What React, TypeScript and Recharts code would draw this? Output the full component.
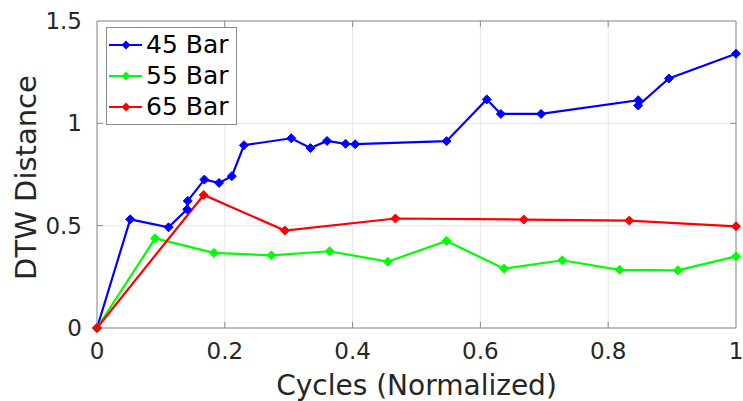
import React from 'react';
import {
  LineChart,
  Line,
  XAxis,
  YAxis,
  CartesianGrid,
  Legend,
  ReferenceLine,
  Label,
} from 'recharts';

type Pt = { x: number; y: number };

const bar45: Pt[] = [
  { x: 0, y: 0 },
  { x: 0.052, y: 0.531 },
  { x: 0.112, y: 0.492 },
  { x: 0.141, y: 0.58 },
  { x: 0.142, y: 0.621 },
  { x: 0.168, y: 0.725 },
  { x: 0.191, y: 0.709 },
  { x: 0.211, y: 0.742 },
  { x: 0.23, y: 0.893 },
  { x: 0.304, y: 0.927 },
  { x: 0.334, y: 0.879 },
  { x: 0.36, y: 0.914 },
  { x: 0.389, y: 0.9 },
  { x: 0.404, y: 0.898 },
  { x: 0.547, y: 0.913 },
  { x: 0.61, y: 1.117 },
  { x: 0.632, y: 1.046 },
  { x: 0.695, y: 1.046 },
  { x: 0.847, y: 1.113 },
  { x: 0.847, y: 1.087 },
  { x: 0.895, y: 1.219 },
  { x: 1.0, y: 1.34 },
];

const bar55: Pt[] = [
  { x: 0, y: 0 },
  { x: 0.091, y: 0.438 },
  { x: 0.183, y: 0.367 },
  { x: 0.273, y: 0.355 },
  { x: 0.364, y: 0.375 },
  { x: 0.455, y: 0.324 },
  { x: 0.547, y: 0.425 },
  { x: 0.637, y: 0.29 },
  { x: 0.728, y: 0.331 },
  { x: 0.818, y: 0.284 },
  { x: 0.909, y: 0.282 },
  { x: 1.0, y: 0.35 },
];

const bar65: Pt[] = [
  { x: 0, y: 0 },
  { x: 0.167, y: 0.65 },
  { x: 0.294, y: 0.476 },
  { x: 0.467, y: 0.535 },
  { x: 0.668, y: 0.53 },
  { x: 0.833, y: 0.525 },
  { x: 1.0, y: 0.497 },
];

const xTicks = [0, 0.2, 0.4, 0.6, 0.8, 1];
const yTicks = [0, 0.5, 1, 1.5];

const series = [
  { name: '45 Bar', color: '#0000ff', data: bar45 },
  { name: '55 Bar', color: '#00ff00', data: bar55 },
  { name: '65 Bar', color: '#ff0000', data: bar65 },
];

const FONT = '"DejaVu Sans", sans-serif';
const TEXT = '#262626';
const AXIS = '#8c8c8c';

const Diamond = (color: string) => (props: any) => {
  const { cx, cy } = props;
  if (cx == null || cy == null) return <g />;
  const r = 4.5;
  return (
    <polygon
      points={`${cx},${cy - r} ${cx + r},${cy} ${cx},${cy + r} ${cx - r},${cy}`}
      fill={color}
      stroke={color}
      strokeWidth={1}
    />
  );
};

const LegendBox = () => (
  <div
    style={{
      border: '1px solid #8c8c8c',
      background: '#fff',
      padding: '1px 7px 2px 2px',
      fontFamily: FONT,
      fontSize: 25,
      color: '#000',
      lineHeight: '31px',
    }}
  >
    {series.map((s) => (
      <div key={s.name} style={{ display: 'flex', alignItems: 'center' }}>
        <svg width={34} height={14} style={{ marginRight: 3 }}>
          <line x1={0} y1={7} x2={33} y2={7} stroke={s.color} strokeWidth={2} />
          <polygon points="17,2.5 21.5,7 17,11.5 12.5,7" fill={s.color} />
        </svg>
        <span>{s.name}</span>
      </div>
    ))}
  </div>
);

export default function App() {
  return (
    <div
      style={{
        position: 'fixed',
        top: 0,
        left: 0,
        width: 743,
        height: 401,
        background: '#fff',
        overflow: 'hidden',
      }}
    >
      <LineChart
        width={743}
        height={401}
        margin={{ top: 21, right: 7, bottom: 28, left: 37 }}
      >
        <CartesianGrid stroke="#e6e6e6" strokeWidth={1} />
        <XAxis
          type="number"
          dataKey="x"
          domain={[0, 1]}
          ticks={xTicks}
          interval={0}
          tickFormatter={(v) => String(v)}
          height={45}
          stroke={AXIS}
          tickLine={false}
          tick={{ fill: TEXT, fontSize: 23, fontFamily: FONT }}
          tickMargin={9}
          allowDuplicatedCategory={false}
        >
          <Label
            value="Cycles (Normalized)"
            position="insideBottom"
            offset={-22}
            style={{ fill: TEXT, fontSize: 28, fontFamily: FONT }}
          />
        </XAxis>
        <YAxis
          type="number"
          domain={[0, 1.5]}
          ticks={yTicks}
          width={60}
          stroke={AXIS}
          tickLine={false}
          tick={{ fill: TEXT, fontSize: 23, fontFamily: FONT }}
          tickMargin={9}
        >
          <Label
            value="DTW Distance"
            angle={-90}
            position="insideLeft"
            offset={-11}
            dy={3}
            style={{ fill: TEXT, fontSize: 29, fontFamily: FONT, textAnchor: 'middle' }}
          />
        </YAxis>
        {/* box: top and right edges */}
        <ReferenceLine y={1.5} stroke={AXIS} />
        <ReferenceLine x={1} stroke={AXIS} />
        {/* inward tick marks on all four sides */}
        {xTicks.slice(1, -1).map((t) => (
          <ReferenceLine
            key={`xb${t}`}
            segment={[
              { x: t, y: 0 },
              { x: t, y: 0.03 },
            ]}
            stroke={AXIS}
          />
        ))}
        {xTicks.slice(1, -1).map((t) => (
          <ReferenceLine
            key={`xt${t}`}
            segment={[
              { x: t, y: 1.5 },
              { x: t, y: 1.47 },
            ]}
            stroke={AXIS}
          />
        ))}
        {yTicks.slice(1, -1).map((t) => (
          <ReferenceLine
            key={`yl${t}`}
            segment={[
              { x: 0, y: t },
              { x: 0.0094, y: t },
            ]}
            stroke={AXIS}
          />
        ))}
        {yTicks.slice(1, -1).map((t) => (
          <ReferenceLine
            key={`yr${t}`}
            segment={[
              { x: 1, y: t },
              { x: 0.9906, y: t },
            ]}
            stroke={AXIS}
          />
        ))}
        {series.map((s) => (
          <Line
            key={s.name}
            name={s.name}
            data={s.data}
            dataKey="y"
            type="linear"
            stroke={s.color}
            strokeWidth={2.2}
            dot={Diamond(s.color)}
            activeDot={false}
            isAnimationActive={false}
          />
        ))}
        <Legend
          layout="horizontal"
          verticalAlign="middle"
          align="center"
          content={<LegendBox />}
          wrapperStyle={{ left: 106, top: 27, width: 'auto' }}
        />
      </LineChart>
    </div>
  );
}
